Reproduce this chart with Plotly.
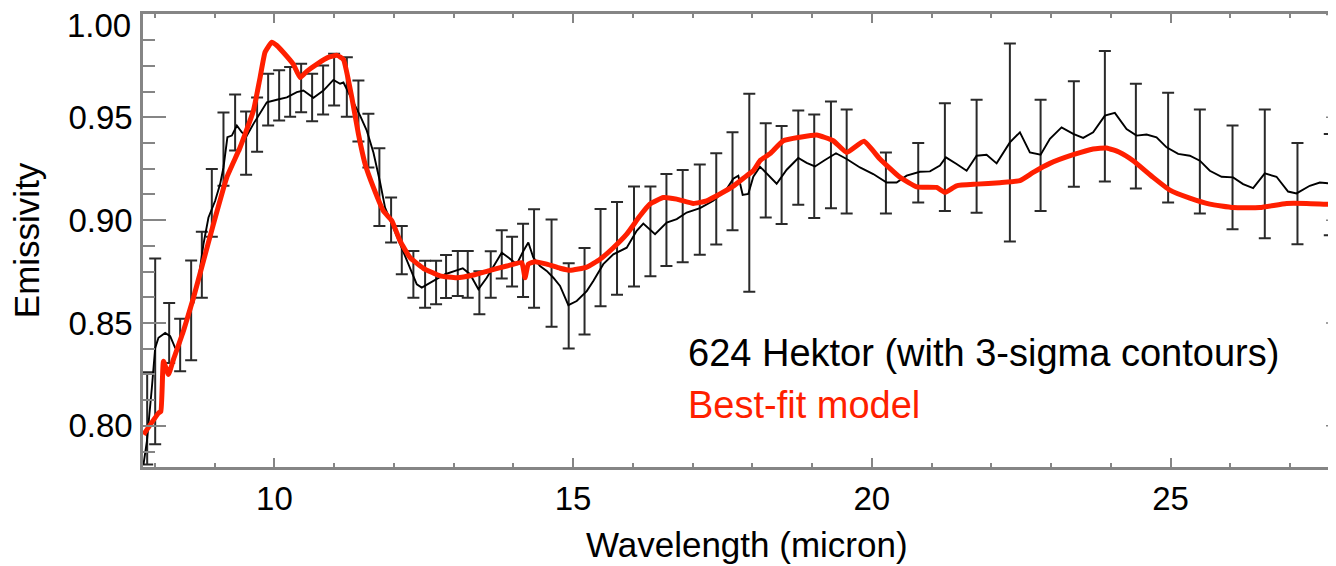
import numpy as np
import plotly.graph_objects as go

# ---------------- data ----------------
# Observed spectrum (black line)
black_w = [7.808, 7.865, 7.948, 8.004, 8.059, 8.171, 8.255, 8.338, 8.394, 8.477,
           8.561, 8.645, 8.728, 8.812, 8.896, 9.008, 9.091, 9.147, 9.213, 9.287,
           9.371, 9.454, 9.538, 9.649, 9.761, 9.873, 10.040, 10.208, 10.375, 10.485,
           10.653, 10.820, 10.987, 11.099, 11.155, 11.267, 11.434, 11.546, 11.657, 11.769,
           11.852, 11.965, 12.103, 12.242, 12.383, 12.467, 12.606, 12.744, 12.857, 13.024,
           13.153, 13.275, 13.414, 13.554, 13.693, 13.805, 13.916, 14.056, 14.167, 14.250,
           14.334, 14.446, 14.558, 14.669, 14.781, 14.920, 15.060, 15.228, 15.338, 15.505,
           15.673, 15.897, 16.064, 16.175, 16.371, 16.566, 16.734, 16.901, 17.124, 17.346,
           17.570, 17.681, 17.765, 17.838, 17.932, 18.016, 18.128, 18.245, 18.407, 18.575,
           18.769, 18.909, 19.048, 19.216, 19.400, 19.579, 19.801, 20.024, 20.248, 20.415,
           20.583, 20.805, 20.973, 21.140, 21.240, 21.419, 21.587, 21.754, 21.921, 22.089,
           22.311, 22.479, 22.646, 22.825, 22.981, 23.176, 23.371, 23.538, 23.705, 23.901,
           24.068, 24.264, 24.431, 24.599, 24.766, 24.934, 25.128, 25.323, 25.491, 25.658,
           25.854, 26.048, 26.215, 26.383, 26.578, 26.774, 26.968, 27.109, 27.331, 27.499,
           27.767]
black_e = [0.7812, 0.7925, 0.8184, 0.8379, 0.8428, 0.8452, 0.8436, 0.8379, 0.8371, 0.8461,
           0.8558, 0.8598, 0.8712, 0.8883, 0.9013, 0.9094, 0.9175, 0.9256, 0.9403, 0.9411,
           0.9460, 0.9427, 0.9411, 0.9468, 0.9524, 0.9573, 0.9585, 0.9597, 0.9622, 0.9630,
           0.9595, 0.9630, 0.9682, 0.9663, 0.9669, 0.9606, 0.9508, 0.9435, 0.9329, 0.9183,
           0.9061, 0.8981, 0.8883, 0.8786, 0.8688, 0.8672, 0.8696, 0.8720, 0.8737, 0.8753,
           0.8766, 0.8737, 0.8664, 0.8720, 0.8786, 0.8842, 0.8818, 0.8786, 0.8850, 0.8891,
           0.8818, 0.8777, 0.8753, 0.8720, 0.8680, 0.8587, 0.8607, 0.8655, 0.8704, 0.8786,
           0.8834, 0.8866, 0.8948, 0.8983, 0.8932, 0.8988, 0.9005, 0.9037, 0.9058, 0.9094,
           0.9151, 0.9201, 0.9216, 0.9123, 0.9127, 0.9211, 0.9260, 0.9224, 0.9177, 0.9245,
           0.9302, 0.9278, 0.9261, 0.9292, 0.9325, 0.9297, 0.9256, 0.9224, 0.9183, 0.9183,
           0.9216, 0.9235, 0.9237, 0.9265, 0.9305, 0.9273, 0.9240, 0.9313, 0.9318, 0.9276,
           0.9378, 0.9427, 0.9329, 0.9318, 0.9395, 0.9451, 0.9419, 0.9400, 0.9427, 0.9508,
           0.9521, 0.9443, 0.9411, 0.9416, 0.9403, 0.9354, 0.9322, 0.9313, 0.9289, 0.9240,
           0.9211, 0.9208, 0.9175, 0.9156, 0.9227, 0.9211, 0.9139, 0.9130, 0.9167, 0.9183,
           0.9175]

# 3-sigma contours (error bars)
bar_w = [7.870, 8.004, 8.238, 8.422, 8.606, 8.785, 8.952, 9.147, 9.342, 9.526,
         9.710, 9.895, 10.079, 10.263, 10.447, 10.631, 10.815, 10.999, 11.212, 11.406,
         11.573, 11.757, 11.953, 12.132, 12.326, 12.522, 12.706, 12.873, 13.069, 13.236,
         13.431, 13.621, 13.805, 13.978, 14.162, 14.346, 14.639, 14.926, 15.191, 15.459,
         15.735, 16.019, 16.294, 16.562, 16.834, 17.120, 17.396, 17.668, 17.949, 18.224,
         18.490, 18.769, 19.036, 19.316, 19.579, 20.236, 20.777, 21.223, 21.754, 22.311,
         22.825, 23.382, 23.901, 24.420, 24.960, 25.491, 26.038, 26.578, 27.125, 27.666]
bar_hi = [0.8261, 0.8813, 0.8597, 0.8521, 0.8804, 0.8944, 0.9249, 0.9523, 0.9611, 0.9528,
          0.9596, 0.9712, 0.9728, 0.9744, 0.9760, 0.9712, 0.9752, 0.9809, 0.9792, 0.9679,
          0.9517, 0.9349, 0.9110, 0.8972, 0.8850, 0.8802, 0.8802, 0.8831, 0.8850, 0.8850,
          0.8751, 0.8849, 0.8951, 0.8919, 0.8983, 0.9053, 0.9003, 0.8790, 0.8864, 0.9054,
          0.9088, 0.9163, 0.9163, 0.9224, 0.9244, 0.9271, 0.9325, 0.9427, 0.9614, 0.9471,
          0.9457, 0.9533, 0.9513, 0.9577, 0.9538, 0.9329, 0.9375, 0.9568, 0.9585, 0.9858,
          0.9585, 0.9675, 0.9822, 0.9663, 0.9619, 0.9538, 0.9460, 0.9538, 0.9375, 0.9419]
bar_lo = [0.7812, 0.7911, 0.8305, 0.8266, 0.8319, 0.8623, 0.8919, 0.9167, 0.9338, 0.9221,
          0.9333, 0.9460, 0.9484, 0.9503, 0.9524, 0.9481, 0.9513, 0.9557, 0.9503, 0.9382,
          0.9256, 0.8972, 0.8891, 0.8737, 0.8623, 0.8574, 0.8591, 0.8621, 0.8631, 0.8623,
          0.8542, 0.8623, 0.8716, 0.8677, 0.8626, 0.8574, 0.8482, 0.8376, 0.8444, 0.8582,
          0.8637, 0.8677, 0.8727, 0.8777, 0.8795, 0.8832, 0.8881, 0.8951, 0.8652, 0.9013,
          0.8981, 0.9075, 0.9010, 0.9058, 0.9032, 0.9032, 0.9086, 0.9045, 0.9036, 0.8896,
          0.9045, 0.9162, 0.9188, 0.9154, 0.9086, 0.9032, 0.8956, 0.8912, 0.8883, 0.8927]

# Best-fit model (red line)
red_w = [7.808, 8.059, 8.099, 8.143, 8.226, 8.310, 8.477, 8.645, 8.812, 8.979,
         9.203, 9.426, 9.649, 9.761, 9.844, 9.956, 10.040, 10.151, 10.318, 10.430,
         10.542, 10.731, 10.899, 11.049, 11.155, 11.295, 11.406, 11.518, 11.657, 11.824,
         11.965, 12.103, 12.271, 12.493, 12.773, 13.052, 13.330, 13.610, 13.889, 14.140,
         14.195, 14.250, 14.363, 14.558, 14.781, 14.948, 15.228, 15.450, 15.673, 15.897,
         16.120, 16.287, 16.510, 16.734, 17.012, 17.236, 17.458, 17.681, 17.905, 18.016,
         18.128, 18.295, 18.518, 18.797, 19.077, 19.354, 19.579, 19.868, 20.136, 20.471,
         20.750, 21.085, 21.223, 21.419, 21.754, 22.144, 22.479, 22.701, 22.981, 23.371,
         23.705, 23.930, 24.152, 24.375, 24.709, 24.989, 25.323, 25.658, 26.048, 26.495,
         26.942, 27.276, 27.767]
red_e = [0.7957, 0.8062, 0.8071, 0.8314, 0.8250, 0.8323, 0.8461, 0.8623, 0.8802, 0.8981,
         0.9208, 0.9354, 0.9533, 0.9695, 0.9817, 0.9865, 0.9849, 0.9815, 0.9757, 0.9693,
         0.9723, 0.9762, 0.9791, 0.9801, 0.9781, 0.9597, 0.9419, 0.9273, 0.9159, 0.9045,
         0.8997, 0.8899, 0.8818, 0.8766, 0.8729, 0.8720, 0.8733, 0.8756, 0.8777, 0.8793,
         0.8720, 0.8786, 0.8798, 0.8786, 0.8766, 0.8756, 0.8772, 0.8810, 0.8866, 0.8932,
         0.9021, 0.9078, 0.9110, 0.9102, 0.9081, 0.9094, 0.9127, 0.9165, 0.9216, 0.9240,
         0.9289, 0.9323, 0.9386, 0.9403, 0.9414, 0.9386, 0.9329, 0.9383, 0.9297, 0.9208,
         0.9162, 0.9159, 0.9135, 0.9167, 0.9175, 0.9182, 0.9192, 0.9232, 0.9276, 0.9318,
         0.9346, 0.9351, 0.9329, 0.9289, 0.9208, 0.9146, 0.9107, 0.9078, 0.9061, 0.9061,
         0.9081, 0.9081, 0.9075]

x_ticks = [10, 15, 20, 25]
y_ticks = [0.80, 0.85, 0.90, 0.95, 1.00]
y_tick_text = ["0.80", "0.85", "0.90", "0.95", ""]   # top label placed below
top_label = "1.00"
x_range = [7.8, 27.77]
y_range = [0.78, 1.0002]

label_data = "624 Hektor (with 3-sigma contours)"
label_model = "Best-fit model"
x_title = "Wavelength (micron)"
y_title = "Emissivity"

# ---------------- figure ----------------
FONT = "Liberation Sans, Arial, Helvetica, sans-serif"
AX = "#858585"

hi = np.array(bar_hi)
lo = np.array(bar_lo)
mid = (hi + lo) / 2
half = (hi - lo) / 2

fig = go.Figure()

fig.add_trace(go.Scatter(
    x=bar_w, y=mid, mode="markers",
    marker=dict(size=1, color="rgba(0,0,0,0)"),
    error_y=dict(type="data", array=half, visible=True,
                 color="#2a2a2a", thickness=2, width=6),
    hoverinfo="skip", showlegend=False))

fig.add_trace(go.Scatter(
    x=black_w, y=black_e, mode="lines",
    line=dict(color="black", width=1.9),
    showlegend=False))

fig.add_trace(go.Scatter(
    x=red_w, y=red_e, mode="lines",
    line=dict(color="#ff1f00", width=5, shape="spline", smoothing=0.4),
    showlegend=False))

# the page body adds an 8 px offset, so the figure is sized to fit the window
fig.update_layout(
    width=1328, height=558,
    margin=dict(l=135, r=0, t=6, b=99, autoexpand=False),
    paper_bgcolor="white", plot_bgcolor="white",
    font=dict(family=FONT, color="black"),
    showlegend=False,
)

fig.update_xaxes(
    range=x_range, tickvals=x_ticks, ticks="inside", ticklen=9, tickwidth=1.5,
    tickcolor=AX, showline=True, linecolor=AX, linewidth=2.5, mirror="ticks",
    showgrid=False, zeroline=False, tickfont=dict(size=33, family=FONT),
    ticklabelstandoff=1, automargin=False, ticklabeloverflow="allow",
    minor=dict(dtick=1, ticks="inside", ticklen=4.5, tickcolor=AX, tickwidth=1.5,
               showgrid=False),
)
fig.update_yaxes(
    range=y_range, tickvals=y_ticks, ticktext=y_tick_text, ticks="inside", ticklen=23,
    tickwidth=1.5, tickcolor=AX, showline=True, linecolor=AX, linewidth=2.5,
    mirror=False, showgrid=False, zeroline=False, automargin=False,
    tickfont=dict(size=33, family=FONT), ticklabelstandoff=1,
    ticklabeloverflow="allow",
    minor=dict(dtick=0.0125, ticks="inside", ticklen=12, tickcolor=AX,
               tickwidth=1.5, showgrid=False),
)

# stubs of the (cropped) right-hand axis ticks
for yt in y_ticks:
    fig.add_shape(type="line", xref="paper", yref="y",
                  x0=1 - 10 / 1193, x1=1, y0=yt, y1=yt,
                  line=dict(color=AX, width=1.5))

fig.add_annotation(x=-0.0095, y=0.9947, xref="paper", yref="y", text=top_label,
                   showarrow=False, xanchor="right", yanchor="middle",
                   font=dict(size=33, color="black", family=FONT), borderpad=0)
fig.add_annotation(x=16.906, y=0.8353, xref="x", yref="y", text=label_data,
                   showarrow=False, xanchor="left", yanchor="middle",
                   font=dict(size=38, color="black", family=FONT), borderpad=0)
fig.add_annotation(x=16.906, y=0.8100, xref="x", yref="y", text=label_model,
                   showarrow=False, xanchor="left", yanchor="middle",
                   font=dict(size=38, color="#ff1f00", family=FONT), borderpad=0)
fig.add_annotation(x=17.918, y=-0.171, xref="x", yref="paper", text=x_title,
                   showarrow=False, xanchor="center", yanchor="middle",
                   font=dict(size=35, color="black", family=FONT), borderpad=0)
fig.add_annotation(x=-0.0975, y=0.5, xref="paper", yref="paper", text=y_title,
                   textangle=-90, showarrow=False, xanchor="center", yanchor="middle",
                   font=dict(size=35, color="black", family=FONT), borderpad=0)

fig.write_html("out.html")
